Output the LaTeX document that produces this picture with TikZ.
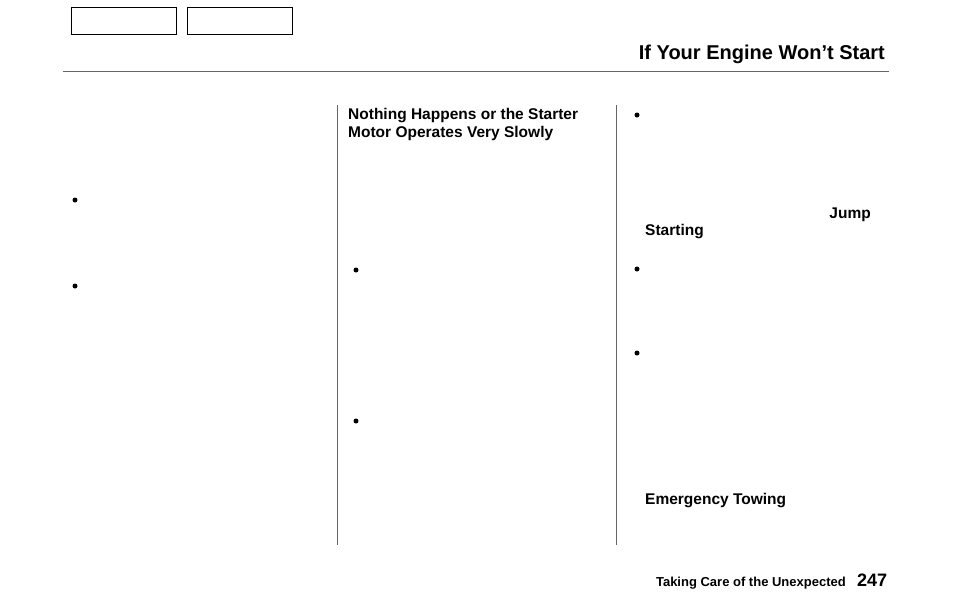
\documentclass[tikz,border=0pt]{standalone}
\usepackage{fontspec}
\setmainfont{Liberation Sans}
\begin{document}
\begin{tikzpicture}[x=1pt,y=-1pt,
  txt/.style={font=\bfseries\fontsize{15.5}{18}\selectfont,inner sep=0pt,anchor=west},
  bul/.style={circle,fill=black,inner sep=0pt,minimum size=5pt},
  tab/.style={draw=black,line width=1.2pt,inner sep=0pt,minimum width=105pt,minimum height=27pt,anchor=north west},
  rule/.style={draw=gray!80!black,line width=0.8pt}]
\useasboundingbox (0,0) rectangle (954,614);
\node[tab] (t1) at (71,7) {};
\node[tab] (t2) at (187,7) {};
\node[font=\bfseries\fontsize{20}{24}\selectfont,inner sep=0pt,anchor=east] (title) at (885,54) {If Your Engine Won{\char"27}t Start};
\draw[rule] (63,71) -- (889,71);
\draw[rule] (337,105) -- (337,545);
\draw[rule] (616,105) -- (616,545);
\foreach \p [count=\i] in {(75,200),(75,286),(356,270),(356,421),(637,115),(637,269),(637,353)}
  \node[bul] (b\i) at \p {};
\node[txt] (h1) at (348,116) {Nothing Happens or the Starter};
\node[txt] (h2) at (348,133) {Motor Operates Very Slowly};
\node[txt,anchor=east] (j1) at (871,215) {Jump};
\node[txt] (j2) at (645,232) {Starting};
\node[txt] (et) at (645,501) {Emergency Towing};
\node[font=\bfseries\fontsize{13}{15}\selectfont,inner sep=0pt,anchor=east] (ft) at (846,583) {Taking Care of the Unexpected};
\node[font=\bfseries\fontsize{18}{20}\selectfont,inner sep=0pt,anchor=west] (pg) at (857,580) {247};
\end{tikzpicture}
\end{document}
